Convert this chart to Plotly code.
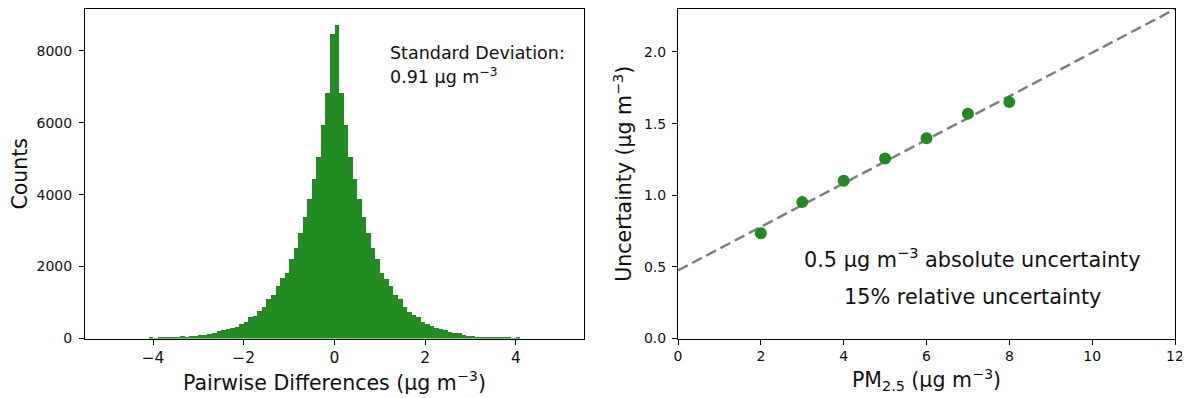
import plotly.graph_objects as go

# ---------------- data ----------------
# Histogram of pairwise differences: bin lower edges (width 0.1) and counts
bin_width = 0.1
bin_lower_edges = [round(-4.1 + 0.1 * i, 1) for i in range(82)]
counts = [
    28, 10, 20, 22, 25, 28, 35, 65, 40, 70,          # -4.1 .. -3.2
    80, 92, 111, 138, 166, 200, 230, 260, 290, 330,  # -3.1 .. -2.2
    390, 461, 590, 620, 766, 868, 1088, 1208, 1449, 1670,  # -2.1 .. -1.2
    1808, 2223, 2509, 2943, 3377, 3884, 4447, 5046, 5932, 6836,  # -1.1 .. -0.2
    8478, 8727,                                      # -0.1, 0.0
    6836, 5932, 5046, 4447, 3884, 3377, 2934, 2509, 2223, 1826,  # 0.1 .. 1.0
    1660, 1449, 1208, 1088, 868, 750, 640, 590, 465, 410,  # 1.1 .. 2.0
    360, 305, 277, 249, 194, 160, 150, 111, 83, 74,  # 2.1 .. 3.0
    55, 28, 55, 28, 25, 22, 20, 18, 5, 28,           # 3.1 .. 4.0
]
bin_centers = [e + bin_width / 2 for e in bin_lower_edges]

# Uncertainty vs PM2.5
pm25 = [2, 3, 4, 5, 6, 7, 8]
uncertainty = [0.735, 0.952, 1.101, 1.256, 1.397, 1.569, 1.650]

# Dashed reference line (0.5 absolute + 15% relative fit)
line_x = [0, 12]
line_y = [0.475, 2.299]

left_xticks = [-4, -2, 0, 2, 4]
left_xticklabels = ["\u22124", "\u22122", "0", "2", "4"]
left_yticks = [0, 2000, 4000, 6000, 8000]
right_xticks = [0, 2, 4, 6, 8, 10, 12]
right_yticks = [0.0, 0.5, 1.0, 1.5, 2.0]

# ---------------- figure ----------------
# The page has an 8px body margin, so the figure is placed at (8, 8).
OFF = 8
W, H = 1190 - OFF, 398 - OFF
FONT = "DejaVu Sans"
GREEN = "#228B22"
TXT = "#111111"

fig = go.Figure()

fig.add_trace(go.Bar(
    x=bin_centers, y=counts, width=[bin_width] * len(counts),
    marker=dict(color=GREEN, line=dict(width=0)),
    xaxis="x", yaxis="y", showlegend=False,
))

fig.add_trace(go.Scatter(
    x=line_x, y=line_y, mode="lines",
    line=dict(color="#808080", width=2.5, dash="11px,5px"),
    xaxis="x2", yaxis="y2", showlegend=False,
))

fig.add_trace(go.Scatter(
    x=pm25, y=uncertainty, mode="markers",
    marker=dict(color=GREEN, size=12, line=dict(width=0)),
    xaxis="x2", yaxis="y2", showlegend=False,
))


def px_x(p):
    return (p - OFF) / W


def px_y(p):
    return 1 - (p - OFF) / H


axis_common = dict(
    showline=True, mirror=True, linecolor="black", linewidth=1,
    ticks="outside", ticklen=5, tickwidth=1, tickcolor="black",
    showgrid=False, zeroline=False, automargin=False,
)
TOP, BOT = 9, 338.5

fig.update_layout(
    width=W, height=H,
    template="none",
    paper_bgcolor="white", plot_bgcolor="white",
    margin=dict(l=0, r=0, t=0, b=0),
    font=dict(family=FONT, color=TXT),
    bargap=0,
    showlegend=False,
    xaxis=dict(
        **axis_common,
        domain=[px_x(85), px_x(584)],
        range=[-5.5, 5.5],
        tickvals=left_xticks, ticktext=left_xticklabels,
        tickfont=dict(size=15.5, family=FONT, color=TXT),
        title=dict(text="Pairwise Differences (μg m<sup>−3</sup>)",
                   font=dict(size=20.5, family=FONT, color=TXT), standoff=9),
        anchor="y",
    ),
    yaxis=dict(
        **axis_common,
        domain=[px_y(BOT), px_y(TOP)],
        range=[0, 9163],
        tickvals=left_yticks,
        tickfont=dict(size=14, family=FONT, color=TXT),
        ticklabelstandoff=4,
        title=dict(text="Counts", font=dict(size=20.5, family=FONT, color=TXT), standoff=4),
        anchor="x",
    ),
    xaxis2=dict(
        **axis_common,
        domain=[px_x(678), px_x(1175)],
        range=[0, 12],
        tickvals=right_xticks,
        tickfont=dict(size=14, family=FONT, color=TXT),
        title=dict(text="PM<sub>2.5</sub> (μg m<sup>−3</sup>)",
                   font=dict(size=20.5, family=FONT, color=TXT), standoff=9),
        anchor="y2",
    ),
    yaxis2=dict(
        **axis_common,
        domain=[px_y(BOT), px_y(TOP)],
        range=[0, 2.3],
        tickvals=right_yticks, tickformat=".1f",
        tickfont=dict(size=14, family=FONT, color=TXT),
        ticklabelstandoff=3,
        title=dict(text="Uncertainty (μg m<sup>−3</sup>)",
                   font=dict(size=20.5, family=FONT, color=TXT), standoff=6),
        anchor="x2",
    ),
)

fig.add_annotation(
    x=px_x(388), y=px_y(53), xref="paper", yref="paper",
    xanchor="left", yanchor="middle", showarrow=False,
    text="Standard Deviation:", font=dict(size=17.5, family=FONT, color=TXT),
)
fig.add_annotation(
    x=px_x(388), y=px_y(76), xref="paper", yref="paper",
    xanchor="left", yanchor="middle", showarrow=False,
    text="0.91 μg m<sup>−3</sup>", font=dict(size=17.5, family=FONT, color=TXT),
)
fig.add_annotation(
    x=px_x(972), y=px_y(258), xref="paper", yref="paper",
    xanchor="center", yanchor="middle", showarrow=False,
    text="0.5 μg m<sup>−3</sup> absolute uncertainty", font=dict(size=20.8, family=FONT, color=TXT),
)
fig.add_annotation(
    x=px_x(972), y=px_y(297), xref="paper", yref="paper",
    xanchor="center", yanchor="middle", showarrow=False,
    text="15% relative uncertainty", font=dict(size=20.8, family=FONT, color=TXT),
)

fig.write_html("out.html")
